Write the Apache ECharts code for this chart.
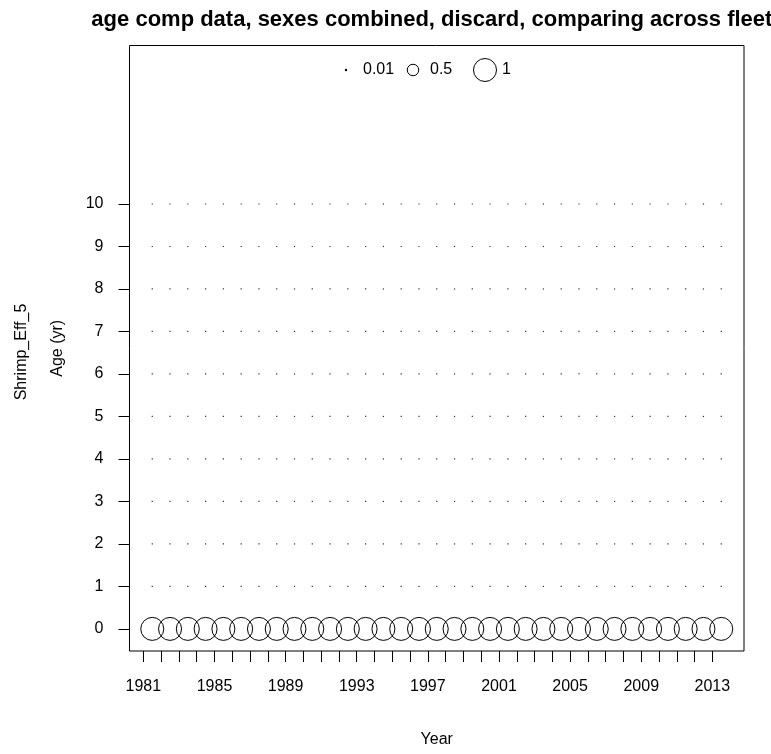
<!DOCTYPE html>
<html>
<head>
<meta charset="utf-8">
<script src="https://cdn.jsdelivr.net/npm/echarts@6/dist/echarts.min.js"></script>
<style>
  html, body { margin: 0; padding: 0; background: #fff; }
  #chart { width: 771px; height: 754px; }
</style>
</head>
<body>
<div id="chart"></div>
<script>
// Survey years (observations plotted at mid-year)
const years = [1981, 1982, 1983, 1984, 1985, 1986, 1987, 1988, 1989, 1990, 1991,
               1992, 1993, 1994, 1995, 1996, 1997, 1998, 1999, 2000, 2001, 2002,
               2003, 2004, 2005, 2006, 2007, 2008, 2009, 2010, 2011, 2012, 2013];
const ages = [0, 1, 2, 3, 4, 5, 6, 7, 8, 9, 10];

// Proportion at age, one row per age (age 0 .. 10), one column per year
const comps = [
  [1,1,1,1,1,1,1,1,1,1,1,1,1,1,1,1,1,1,1,1,1,1,1,1,1,1,1,1,1,1,1,1,1],
  [0,0,0,0,0,0,0,0,0,0,0,0,0,0,0,0,0,0,0,0,0,0,0,0,0,0,0,0,0,0,0,0,0],
  [0,0,0,0,0,0,0,0,0,0,0,0,0,0,0,0,0,0,0,0,0,0,0,0,0,0,0,0,0,0,0,0,0],
  [0,0,0,0,0,0,0,0,0,0,0,0,0,0,0,0,0,0,0,0,0,0,0,0,0,0,0,0,0,0,0,0,0],
  [0,0,0,0,0,0,0,0,0,0,0,0,0,0,0,0,0,0,0,0,0,0,0,0,0,0,0,0,0,0,0,0,0],
  [0,0,0,0,0,0,0,0,0,0,0,0,0,0,0,0,0,0,0,0,0,0,0,0,0,0,0,0,0,0,0,0,0],
  [0,0,0,0,0,0,0,0,0,0,0,0,0,0,0,0,0,0,0,0,0,0,0,0,0,0,0,0,0,0,0,0,0],
  [0,0,0,0,0,0,0,0,0,0,0,0,0,0,0,0,0,0,0,0,0,0,0,0,0,0,0,0,0,0,0,0,0],
  [0,0,0,0,0,0,0,0,0,0,0,0,0,0,0,0,0,0,0,0,0,0,0,0,0,0,0,0,0,0,0,0,0],
  [0,0,0,0,0,0,0,0,0,0,0,0,0,0,0,0,0,0,0,0,0,0,0,0,0,0,0,0,0,0,0,0,0],
  [0,0,0,0,0,0,0,0,0,0,0,0,0,0,0,0,0,0,0,0,0,0,0,0,0,0,0,0,0,0,0,0,0]
];

// Axis ticks and labels
const yearTicks = years.slice();
const yearLabels = [1981, 1985, 1989, 1993, 1997, 2001, 2005, 2009, 2013];
const ageTicks = ages.slice();

// Bubble legend entries
const legendValues = [0.01, 0.5, 1];

const FONT = '"Liberation Sans", Arial, Helvetica, sans-serif';
const MAX_DIAM = 23;   // diameter of a bubble with proportion 1
const seasonOffset = 0.5;
const X_MIN = 1980.22, X_MAX = 2014.78;
const Y_MIN = -0.52, Y_MAX = 13.73;

function diam(v) { return MAX_DIAM * v; }

const bubbles = [];
const zeros = [];
ages.forEach((a, i) => {
  years.forEach((y, j) => {
    const v = comps[i][j];
    if (v > 0) bubbles.push([y + seasonOffset, a, v]);
    else zeros.push([y + seasonOffset, a, v]);
  });
});

const chart = echarts.init(document.getElementById('chart'), null, { renderer: 'canvas' });

// Bubble-size legend at the top of the plot region, plus the fleet name
const legendY = 70;
const legendFont = '16px ' + FONT;
const legendGraphics = [
  { type: 'circle', shape: { cx: 346, cy: legendY, r: 1.2 }, style: { fill: '#000' } },
  { type: 'text', x: 363, y: legendY, style: { text: String(legendValues[0]), font: legendFont, fill: '#000', textVerticalAlign: 'middle' } },
  { type: 'circle', shape: { cx: 413, cy: legendY, r: diam(legendValues[1]) / 2 }, style: { fill: 'none', stroke: '#000', lineWidth: 1 } },
  { type: 'text', x: 430, y: legendY, style: { text: String(legendValues[1]), font: legendFont, fill: '#000', textVerticalAlign: 'middle' } },
  { type: 'circle', shape: { cx: 485, cy: legendY, r: diam(legendValues[2]) / 2 }, style: { fill: 'none', stroke: '#000', lineWidth: 1 } },
  { type: 'text', x: 502, y: legendY, style: { text: String(legendValues[2]), font: legendFont, fill: '#000', textVerticalAlign: 'middle' } },
  { type: 'text', x: 22, y: 352, rotation: Math.PI / 2,
    style: { text: 'Shrimp_Eff_5', font: '16px ' + FONT, fill: '#000', textAlign: 'center', textVerticalAlign: 'middle' } }
];

const labelStyle = { fontFamily: FONT, fontSize: 16, color: '#000' };

chart.setOption({
  animation: false,
  backgroundColor: '#fff',
  title: {
    text: 'age comp data, sexes combined, discard, comparing across fleets',
    left: 433, top: 4, textAlign: 'center',
    textStyle: { fontFamily: FONT, fontSize: 22, fontWeight: 'bold', color: '#000' }
  },
  grid: {
    left: 129.5, right: 27, top: 45.5, bottom: 103,
    outerBoundsMode: 'none', containLabel: false,
    show: true, borderColor: '#000', borderWidth: 1, backgroundColor: 'transparent'
  },
  xAxis: [
    {
      type: 'value', min: X_MIN, max: X_MAX,
      name: 'Year', nameLocation: 'middle', nameGap: 81,
      nameTextStyle: labelStyle,
      axisLine: { show: false },
      axisTick: { show: false },
      axisLabel: { show: true, customValues: yearLabels, margin: 28, ...labelStyle, formatter: v => String(Math.round(v)) },
      splitLine: { show: false }
    },
    {
      type: 'value', min: X_MIN, max: X_MAX, position: 'bottom',
      axisLine: { show: false },
      axisTick: { show: true, inside: false, length: 11, customValues: yearTicks, lineStyle: { color: '#000', width: 1 } },
      axisLabel: { show: false, customValues: yearTicks },
      splitLine: { show: false }
    }
  ],
  yAxis: {
    type: 'value', min: Y_MIN, max: Y_MAX,
    name: 'Age (yr)', nameLocation: 'middle', nameGap: 64, nameRotate: 90,
    nameTextStyle: labelStyle,
    axisLine: { show: false },
    axisTick: { show: true, inside: false, length: 11, customValues: ageTicks, lineStyle: { color: '#000', width: 1 } },
    axisLabel: { customValues: ageTicks, margin: 26, ...labelStyle },
    splitLine: { show: false }
  },
  graphic: legendGraphics,
  series: [
    {
      type: 'scatter',
      data: bubbles,
      symbol: 'circle',
      symbolSize: d => diam(d[2]),
      itemStyle: { color: 'rgba(0,0,0,0)', borderColor: '#000', borderWidth: 1, opacity: 1 },
      emphasis: { disabled: true },
      z: 3
    },
    {
      type: 'scatter',
      data: zeros,
      symbol: 'rect',
      symbolSize: 1.2,
      itemStyle: { color: '#333', opacity: 1 },
      emphasis: { disabled: true },
      z: 2
    }
  ]
});
</script>
</body>
</html>
